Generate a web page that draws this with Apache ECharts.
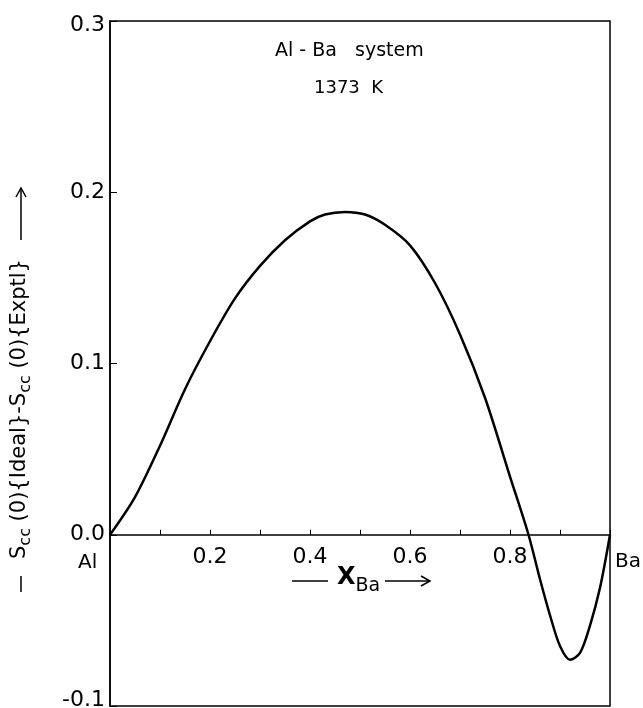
<!DOCTYPE html>
<html>
<head>
<meta charset="utf-8">
<script src="https://cdn.jsdelivr.net/npm/echarts@6/dist/echarts.min.js"></script>
<style>
  html, body { margin: 0; padding: 0; background: #fff; }
  #chart { width: 643px; height: 708px; }
</style>
</head>
<body>
<div id="chart"></div>
<script>
// composition X_Ba and Scc(0)[ideal] - Scc(0)[expt]
var xBa = [0, 0.05, 0.1, 0.15, 0.2, 0.25, 0.3, 0.35, 0.4, 0.43, 0.47, 0.51, 0.55, 0.6, 0.65, 0.7,
           0.75, 0.8, 0.837, 0.86, 0.88, 0.9, 0.92, 0.94, 0.96, 0.98, 1.0];
var dScc = [0, 0.022, 0.052, 0.085, 0.113, 0.138, 0.157, 0.172, 0.183, 0.187, 0.1885, 0.187, 0.181, 0.169, 0.147, 0.117,
            0.080, 0.034, 0, -0.026, -0.047, -0.065, -0.073, -0.069, -0.053, -0.031, 0];
var xTickLabels = ['0.2', '0.4', '0.6', '0.8'];
var yTickLabels = ['-0.1', '0.0', '0.1', '0.2', '0.3'];

var font = 'DejaVu Sans';
var gridTop = 21, gridBottom = 2, yMin = -0.1, yMax = 0.3;
// x axis sits on y = 0, so move it up from the bottom edge
var plotH = 708 - gridTop - gridBottom;
var zeroOffset = plotH * (0 - yMin) / (yMax - yMin);

var myChart = echarts.init(document.getElementById('chart'));

var points = xBa.map(function (x, i) { return [x, dScc[i]]; });
var pen = { stroke: '#000', lineWidth: 1.5, fill: null };

var option = {
    animation: false,
    grid: {
        left: 110, right: 33, top: gridTop, bottom: gridBottom,
        outerBoundsMode: 'none',
        containLabel: false,
        show: true,
        borderColor: '#000',
        borderWidth: 1.5
    },
    xAxis: {
        type: 'value',
        min: 0, max: 1, interval: 0.1,
        offset: -zeroOffset,
        axisLine: { onZero: false, lineStyle: { color: '#000', width: 1.5 } },
        axisTick: { inside: true, length: 5, lineStyle: { color: '#000', width: 1 } },
        splitLine: { show: false },
        axisLabel: {
            margin: 12,
            color: '#000',
            fontFamily: font,
            fontSize: 22,
            formatter: function (v) {
                var s = v.toFixed(1);
                return xTickLabels.indexOf(s) >= 0 ? s : '';
            }
        }
    },
    yAxis: {
        type: 'value',
        min: yMin, max: yMax, interval: 0.1,
        axisLine: { lineStyle: { color: '#000', width: 1.5 } },
        axisTick: { inside: true, length: 7, lineStyle: { color: '#000', width: 1 } },
        splitLine: { show: false },
        axisLabel: {
            margin: 5,
            color: '#000',
            fontFamily: font,
            fontSize: 22,
            formatter: function (v) {
                var s = v.toFixed(1);
                if (yTickLabels.indexOf(s) < 0) return '';
                // bottom label sits just above the frame edge
                if (s === '-0.1') return '{lo|-0.1}';
                if (s === '0.3') return '{hi|0.3}';
                return s;
            },
            rich: {
                lo: { fontFamily: font, fontSize: 22, color: '#000', padding: [0, 0, 12, 0] },
                hi: { fontFamily: font, fontSize: 22, color: '#000', padding: [8, 0, 0, 0] }
            }
        }
    },
    graphic: [
        { type: 'text', left: 275, top: 42,
          style: { text: 'Al - Ba   system', font: '19px ' + font, fill: '#000' } },
        { type: 'text', left: 314, top: 79,
          style: { text: '1373  K', font: '18px ' + font, fill: '#000' } },
        { type: 'text', left: 78, top: 553,
          style: { text: 'Al', font: '20px ' + font, fill: '#000' } },
        { type: 'text', left: 615, top: 552,
          style: { text: 'Ba', font: '20px ' + font, fill: '#000' } },
        // x axis name
        { type: 'line', shape: { x1: 292, y1: 581, x2: 328, y2: 581 }, style: pen },
        { type: 'text', left: 337, top: 566,
          style: {
              text: '{x|X}{s|Ba}',
              font: '22px ' + font, fill: '#000',
              rich: {
                  x: { fontSize: 24, fontFamily: font, fontWeight: 'bold' },
                  s: { fontSize: 19, fontFamily: font, padding: [16, 0, 0, 0] }
              }
          } },
        { type: 'line', shape: { x1: 385, y1: 581, x2: 430, y2: 581 }, style: pen },
        { type: 'polyline', shape: { points: [[421, 576], [430, 581], [421, 586]] }, style: pen },
        // y axis name, rotated
        { type: 'line', shape: { x1: 21, y1: 592, x2: 21, y2: 576 }, style: pen },
        { type: 'text', x: 20, y: 409, rotation: Math.PI / 2,
          style: {
              text: 'S{s|cc} (0){Ideal}-S{s|cc} (0){Exptl}',
              font: '21px ' + font, fill: '#000',
              align: 'center', verticalAlign: 'middle',
              rich: {
                  s: { fontSize: 16, fontFamily: font, padding: [11, 0, 0, 0] }
              }
          } },
        { type: 'line', shape: { x1: 21, y1: 240, x2: 21, y2: 188 }, style: pen },
        { type: 'polyline', shape: { points: [[16, 197], [21, 188], [26, 197]] }, style: pen }
    ],
    series: [
        {
            type: 'line',
            data: points,
            smooth: 0.3,
            symbol: 'none',
            lineStyle: { color: '#000', width: 2.5 }
        }
    ]
};

myChart.setOption(option);
window.addEventListener('resize', function () {
    myChart.resize();
});
</script>
</body>
</html>
